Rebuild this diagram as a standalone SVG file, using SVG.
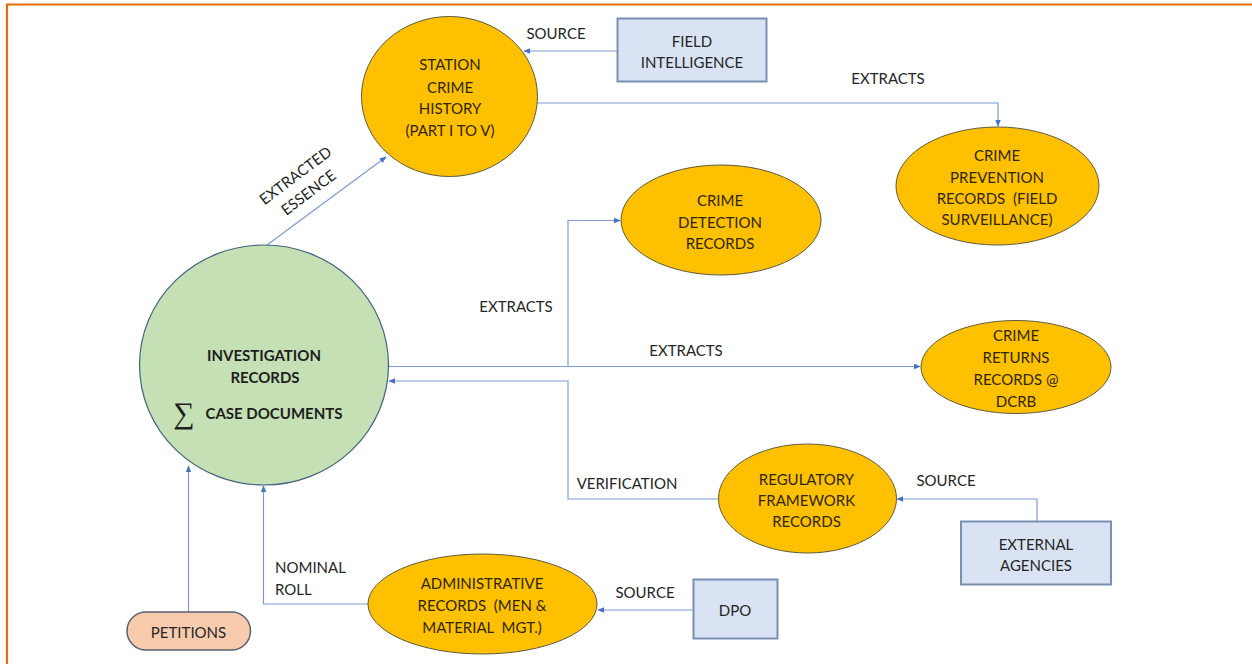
<svg xmlns="http://www.w3.org/2000/svg" width="1252" height="664" viewBox="0 0 1252 664">
  <defs>
    <marker id="arrow" viewBox="0 0 10 10" refX="9" refY="5" markerWidth="7" markerHeight="7" orient="auto-start-reverse" markerUnits="userSpaceOnUse">
      <path d="M0,1 L10,5 L0,9 Z" fill="#4472c4"/>
    </marker>
    <style>
      text { font-family: Lato, "Liberation Sans", sans-serif; font-size: 15px; fill: #262626; text-anchor: middle; dominant-baseline: central; }
      .proc { fill: #ffc000; stroke: #5e5b3e; stroke-width: 1; }
      .proc-text { fill: #2e2700; }
      .main { fill: #c5e0b4; stroke: #44627f; stroke-width: 1.2; }
      .main-text { font-weight: bold; fill: #1e1e1e; }
      .ext { fill: #dae3f3; stroke: #7b8fb3; stroke-width: 2; }
      .pet { fill: #f8cbad; stroke: #5b6170; stroke-width: 1.5; }
      .conn { fill: none; stroke: #7d9ad4; stroke-width: 1.2; }
      .lbl { fill: #262626; }
    </style>
  </defs>

  <rect width="1252" height="664" fill="#ffffff"/>
  <!-- page frame (top and left edges) -->
  <path d="M7,664 L7,4.5 L1252,4.5" fill="none" stroke="#e36c09" stroke-width="2.2"/>

  <!-- connectors -->
  <g id="connectors">
    <!-- investigation -> station crime history -->
    <path class="conn" d="M267,245 L386,157" marker-end="url(#arrow)"/>
    <!-- field intelligence -> station crime history -->
    <path class="conn" d="M617,51 L524,51" marker-end="url(#arrow)"/>
    <!-- station crime history -> crime prevention -->
    <path class="conn" d="M537,103 L998,103 L998,126" marker-end="url(#arrow)"/>
    <!-- investigation -> crime detection -->
    <path class="conn" d="M568,366.5 L568,220.5 L620,220.5" marker-end="url(#arrow)"/>
    <!-- investigation -> crime returns -->
    <path class="conn" d="M388,366.5 L920,366.5" marker-end="url(#arrow)"/>
    <!-- regulatory framework -> investigation (verification) -->
    <path class="conn" d="M719,499 L568,499 L568,381 L389,381" marker-end="url(#arrow)"/>
    <!-- external agencies -> regulatory framework -->
    <path class="conn" d="M1037,521 L1037,499 L897,499" marker-end="url(#arrow)"/>
    <!-- DPO -> administrative records -->
    <path class="conn" d="M693,610 L598,610" marker-end="url(#arrow)"/>
    <!-- administrative records -> investigation (nominal roll) -->
    <path class="conn" d="M368,604 L263.5,604 L263.5,486" marker-end="url(#arrow)"/>
    <!-- petitions -> investigation -->
    <path class="conn" d="M188.5,612 L188.5,466" marker-end="url(#arrow)"/>
  </g>

  <!-- connector labels -->
  <g id="connector-labels">
    <g transform="translate(295,175) rotate(-37)"><text class="lbl" x="0" y="0">EXTRACTED</text></g>
    <g transform="translate(308,192) rotate(-37)"><text class="lbl" x="0" y="0">ESSENCE</text></g>
    <text class="lbl" x="556" y="33">SOURCE</text>
    <text class="lbl" x="888" y="78">EXTRACTS</text>
    <text class="lbl" x="516" y="306">EXTRACTS</text>
    <text class="lbl" x="686" y="350">EXTRACTS</text>
    <text class="lbl" x="627" y="483">VERIFICATION</text>
    <text class="lbl" x="946" y="480">SOURCE</text>
    <text class="lbl" x="645" y="592">SOURCE</text>
    <text class="lbl" x="275" y="567" style="text-anchor:start">NOMINAL</text>
    <text class="lbl" x="275" y="589" style="text-anchor:start">ROLL</text>
  </g>

  <!-- nodes -->
  <g id="station-crime-history">
    <ellipse class="proc" cx="449.5" cy="96.5" rx="88" ry="80"/>
    <text class="proc-text" x="450" y="64">STATION</text>
    <text class="proc-text" x="450" y="86.5">CRIME</text>
    <text class="proc-text" x="450" y="108">HISTORY</text>
    <text class="proc-text" x="450" y="130">(PART I TO V)</text>
  </g>

  <g id="field-intelligence">
    <rect class="ext" x="617.5" y="18.5" width="149" height="63"/>
    <text x="692" y="41">FIELD</text>
    <text x="692" y="62">INTELLIGENCE</text>
  </g>

  <g id="crime-prevention-records">
    <ellipse class="proc" cx="997.5" cy="186" rx="101.5" ry="59"/>
    <text class="proc-text" x="997" y="155">CRIME</text>
    <text class="proc-text" x="997" y="176.5">PREVENTION</text>
    <text class="proc-text" x="997" y="198" style="white-space:pre">RECORDS  (FIELD</text>
    <text class="proc-text" x="997" y="219">SURVEILLANCE)</text>
  </g>

  <g id="crime-detection-records">
    <ellipse class="proc" cx="721" cy="220" rx="100" ry="55"/>
    <text class="proc-text" x="720" y="200">CRIME</text>
    <text class="proc-text" x="720" y="221.5">DETECTION</text>
    <text class="proc-text" x="720" y="243">RECORDS</text>
  </g>

  <g id="crime-returns-records">
    <ellipse class="proc" cx="1016" cy="367" rx="95" ry="46.5"/>
    <text class="proc-text" x="1016" y="335">CRIME</text>
    <text class="proc-text" x="1016" y="357">RETURNS</text>
    <text class="proc-text" x="1016" y="379">RECORDS @</text>
    <text class="proc-text" x="1016" y="401">DCRB</text>
  </g>

  <g id="investigation-records">
    <ellipse class="main" cx="264" cy="365" rx="124.5" ry="120"/>
    <text class="main-text" x="264" y="355">INVESTIGATION</text>
    <text class="main-text" x="265" y="377">RECORDS</text>
    <text x="184" y="412" style="font-family:'Liberation Serif',serif;font-size:30px;fill:#1e1e1e">∑</text>
    <text class="main-text" x="274" y="413">CASE DOCUMENTS</text>
  </g>

  <g id="regulatory-framework-records">
    <ellipse class="proc" cx="807.5" cy="498.5" rx="89" ry="54.5"/>
    <text class="proc-text" x="806.5" y="479">REGULATORY</text>
    <text class="proc-text" x="806.5" y="500">FRAMEWORK</text>
    <text class="proc-text" x="806.5" y="521">RECORDS</text>
  </g>

  <g id="external-agencies">
    <rect class="ext" x="961" y="521.5" width="150" height="63"/>
    <text x="1036" y="544">EXTERNAL</text>
    <text x="1036" y="565">AGENCIES</text>
  </g>

  <g id="administrative-records">
    <ellipse class="proc" cx="482.5" cy="604" rx="114.5" ry="50"/>
    <text class="proc-text" x="482" y="583">ADMINISTRATIVE</text>
    <text class="proc-text" x="482" y="605" style="white-space:pre">RECORDS  (MEN &amp;</text>
    <text class="proc-text" x="482" y="627" style="white-space:pre">MATERIAL  MGT.)</text>
  </g>

  <g id="dpo">
    <rect class="ext" x="693.5" y="579.5" width="84" height="59"/>
    <text x="735" y="610">DPO</text>
  </g>

  <g id="petitions">
    <rect class="pet" x="127" y="612" width="123.5" height="38" rx="19" ry="19"/>
    <text x="188.5" y="631.5">PETITIONS</text>
  </g>
</svg>
